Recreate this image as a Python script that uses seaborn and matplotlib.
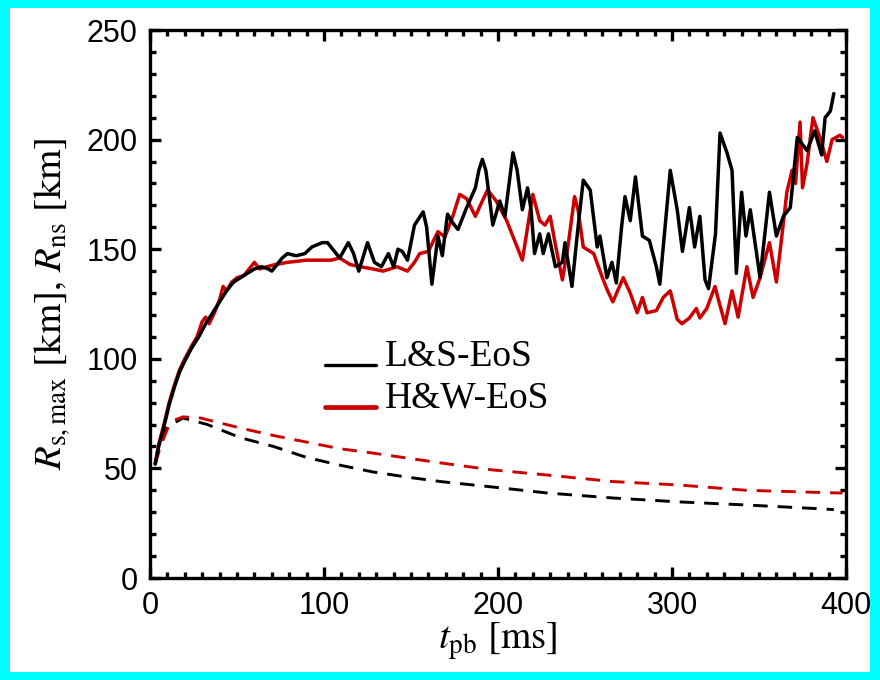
import matplotlib
matplotlib.use("Agg")
import matplotlib.pyplot as plt
from matplotlib.lines import Line2D
from matplotlib.legend_handler import HandlerLine2D
from matplotlib.patches import Rectangle
from matplotlib.ticker import MultipleLocator
import seaborn as sns
import pandas as pd
import numpy as np

# shock radius, L&S EoS (black solid)
ls_shock_t = [3, 5, 8, 11, 14, 17, 20, 24, 28, 32, 36, 40, 44, 48, 52, 56, 60, 64, 68, 70,
              73, 76, 79, 84, 89, 93, 96, 99, 102, 105, 109, 114, 117, 120, 125, 129, 133, 137,
              140, 142.5, 145, 148, 152, 157, 159, 162, 165.5, 168, 171, 174, 177, 182, 187,
              189, 191, 193, 195, 197, 201, 204, 208.6, 211, 214, 217, 219, 221, 224, 226, 229,
              233, 237, 238.5, 242.5, 246, 249, 253, 257, 258.6, 262.6, 265.5, 268, 271, 273,
              276, 279, 283, 287, 291, 293, 296, 299, 303, 306, 310, 313, 316, 319, 321, 325,
              327.6, 331.6, 334.5, 337, 340, 342.5, 345, 350.6, 356, 360, 364, 368, 372, 377.6,
              382, 386, 388, 391, 393]
ls_shock_r = [52, 60, 69, 79, 87, 94, 99, 105, 110, 116, 121, 126, 131, 135, 137, 139, 141, 142,
              141, 140, 143, 146, 148, 147, 148, 151, 152, 153, 153, 150, 146, 153, 148, 140,
              153, 144, 142, 148, 142, 150, 149, 145, 161, 167, 160, 134, 156, 147, 166, 162,
              159, 169, 178, 186, 191, 186, 174, 161, 172, 165, 194, 186, 168, 178, 168, 148,
              157, 148, 157, 142, 144, 153, 133, 160, 181.5, 177, 151, 156, 137, 144, 134.6,
              160, 174, 163, 183, 156, 154, 142, 134, 160, 186, 168, 149, 169, 151, 165, 136,
              132, 157, 203, 194, 186, 139, 176, 156, 168, 137, 176, 156, 165, 169, 201, 195,
              204, 193, 210, 213, 221]

# shock radius, H&W EoS (red solid)
hw_shock_t = [3, 5, 8, 11, 14, 17, 20, 24, 27, 30, 32, 34, 37, 40, 42, 44, 47, 50, 54, 57, 60,
              63, 67, 72, 79, 90, 100, 104, 109, 115, 121, 128, 134, 142, 148, 152, 155, 160,
              163, 165.5, 169.5, 174, 178, 182, 187, 191, 194, 199, 205, 207, 211, 214, 217,
              220, 224, 227, 230, 233, 237, 240, 244, 246, 249, 255, 260, 263, 266, 272, 276,
              280, 283, 285.6, 291, 295, 299, 303, 305.7, 310, 314, 316, 320, 324.7, 327,
              330.5, 334.5, 338, 343, 346.6, 350.6, 356, 360, 363, 366, 369, 371, 373.6, 375,
              377.6, 381, 385, 389, 392, 396.5, 398]
hw_shock_r = [52, 61, 70, 80, 88, 95, 100, 106, 110, 117, 119, 116, 121, 127, 133, 131, 135,
              137, 138, 141, 144, 141, 142, 143, 144, 145, 145, 145, 146, 143, 142, 141, 140,
              142, 140, 144, 148, 149, 154, 158, 155.6, 165, 175, 173, 165, 172, 177, 172, 163,
              159, 151, 145, 160, 175, 163, 161, 165, 152, 136, 150, 174, 168, 151, 148, 137,
              131, 126, 137, 130, 121, 128, 121, 122, 128, 131, 118, 116, 118.6, 123, 118.6,
              123, 133, 126, 116, 131, 119, 142, 128, 137, 153, 135, 155, 176, 186, 180, 208,
              178, 189, 210, 201, 190, 200, 202, 201]

# neutron star radius (dashed)
ls_ns_t = [3, 5, 10, 19, 33, 52, 71, 90, 109, 128, 148, 167, 197, 228, 266, 304.6, 343, 387, 393]
ls_ns_r = [52, 60, 69, 73, 70, 64, 60, 55, 51.5, 48.4, 46, 44, 41.5, 38.8, 36.5, 34.7, 33.3,
           31.5, 31.2]
hw_ns_t = [3, 6, 10, 14, 19, 29, 52, 71, 90, 109, 128, 148, 167, 197, 228, 266, 304.6, 343,
           395, 398]
hw_ns_r = [52, 60, 68, 72, 73.5, 73, 68.4, 65, 62, 59, 57, 54.7, 52.5, 49.3, 47, 44, 42.4, 40,
           38.8, 38.8]

legend_labels = ["L&S-EoS", "H&W-EoS"]
RED = "#cc0000"


class BaselineHandler(HandlerLine2D):
    """legend line drawn at the text baseline"""
    def create_artists(self, legend, orig_handle, xdescent, ydescent, width, height,
                       fontsize, trans):
        arts = super().create_artists(legend, orig_handle, xdescent, ydescent, width,
                                      height, fontsize, trans)
        for a in arts:
            a.set_ydata(np.full_like(np.asarray(a.get_ydata(), dtype=float), height * 0.02))
        return arts


sns.set_style("ticks")
plt.rcParams["font.family"] = ["Liberation Sans", "DejaVu Sans"]
plt.rcParams["mathtext.fontset"] = "stix"
plt.rcParams["text.color"] = "black"
plt.rcParams["axes.labelcolor"] = "black"
plt.rcParams["xtick.color"] = "black"
plt.rcParams["ytick.color"] = "black"

fig = plt.figure(figsize=(8.8, 6.8), dpi=100, facecolor="#00ffff")
fig.patches.append(Rectangle((10 / 880, 8 / 680), 860 / 880, 664 / 680,
                             transform=fig.transFigure, facecolor="white",
                             edgecolor="none", zorder=-10))
ax = fig.add_axes([150 / 880, 1 - 578 / 680, 696 / 880, 548 / 680])
ax.set_zorder(1)

dash = (0, (5.0, 3.4))
series = [
    (ls_ns_t, ls_ns_r, "black", dash, 2.1),
    (hw_ns_t, hw_ns_r, RED, dash, 2.1),
    (hw_shock_t, hw_shock_r, RED, "-", 2.5),
    (ls_shock_t, ls_shock_r, "black", "-", 2.5),
]
for t, r, c, ls, lw in series:
    df = pd.DataFrame({"t": t, "r": r})
    sns.lineplot(data=df, x="t", y="r", color=c, linestyle=ls, linewidth=lw, ax=ax,
                 sort=False, estimator=None, solid_joinstyle="round")

ax.set_xlim(0, 400)
ax.set_ylim(0, 250)
ax.xaxis.set_major_locator(MultipleLocator(100))
ax.xaxis.set_minor_locator(MultipleLocator(10))
ax.yaxis.set_major_locator(MultipleLocator(50))
ax.yaxis.set_minor_locator(MultipleLocator(10))
ax.tick_params(which="both", direction="in", top=True, right=True, width=2.4,
               colors="black")
ax.tick_params(which="major", length=8, labelsize=22, pad=9)
ax.tick_params(which="minor", length=4)
for sp in ax.spines.values():
    sp.set_linewidth(2.4)
    sp.set_color("black")

ax.set_xlabel(r"$t_{\rm pb}$ [ms]", fontsize=28, family="STIXGeneral", labelpad=0)
ax.set_ylabel(r"$R_{\rm s,max}$ [km], $R_{\rm ns}$ [km]", fontsize=28,
              family="STIXGeneral", labelpad=10)

handles = [Line2D([], [], color="black", lw=2.4), Line2D([], [], color=RED, lw=3.4)]
leg = ax.legend(handles, legend_labels, loc="upper left", bbox_to_anchor=(0.225, 0.47),
                frameon=False, borderpad=0, handlelength=1.35, handletextpad=0.25,
                labelspacing=0.2, prop={"family": "Liberation Serif", "size": 27},
                handler_map={Line2D: BaselineHandler()})

fig.savefig("out.png", dpi=100, facecolor=fig.get_facecolor())
